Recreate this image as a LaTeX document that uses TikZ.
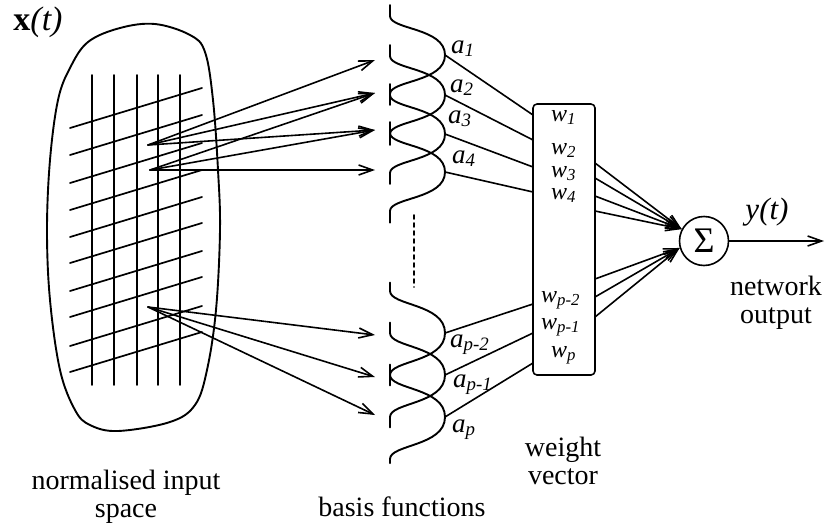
\documentclass[tikz,border=0pt]{standalone}
\usepackage{fontspec}
\setmainfont{Liberation Serif}
\usetikzlibrary{arrows.meta}
\begin{document}
\begin{tikzpicture}[x=1pt,y=-1pt,line cap=round,line join=round,
  outline/.style={line width=1.9pt},
  gridl/.style={line width=1.7pt},
  bf/.style={line width=1.9pt},
  conn/.style={line width=1.6pt},
  arr/.style={line width=1.6pt,-{Straight Barb[length=14pt,width=10pt,line width=1.6pt]}},
  big/.style={font=\fontsize{28}{28}\selectfont,inner sep=0pt,align=center},
  alab/.style={font=\fontsize{27}{27}\selectfont,inner sep=0pt,anchor=base west},
  wlab/.style={font=\fontsize{24}{24}\selectfont,inner sep=0pt,anchor=base west}]
\useasboundingbox (0,0) rectangle (825,525);
\fill[white] (0,0) rectangle (825,525);

% input space blob
\draw[outline] plot[smooth cycle,tension=0.6] coordinates {(155,24) (190,35) (205,52) (213,100) (218,170) (220,230) (216,310) (207,370) (195,405) (170,422) (118,431) (90,425) (75,410) (60,370) (50,300) (47,230) (50,160) (58,100) (70,68) (88,42) (120,28)};
\foreach \x in {92,114,137,158,180} \draw[gridl] (\x,75) -- (\x,385);
\foreach \y in {128,155,183,210,237,263,291,317,346,372} \draw[gridl] (70,\y) -- (202,\y-40);
\node[font=\fontsize{34}{34}\selectfont,inner sep=0pt] (xt) at (38,22) {\textbf{x}\textit{(t)}};

% basis functions: #1 centre, #2 spacing, #3 upper tail, #4 lower tail (in spacings)
\newcommand\bump[4]{\draw[bf] (390,{#1-#3*#2}) -- (390,{#1-#2})
   .. controls (390,{#1-0.65*#2}) and (445,{#1-0.7*#2}) .. (445,#1)
   .. controls (445,{#1+0.7*#2}) and (390,{#1+0.65*#2}) .. (390,{#1+#2})
   -- (390,{#1+#4*#2});}
\bump{55}{39}{1.28}{1.28}
\bump{95}{39}{1.28}{1.28}
\bump{134}{39}{1.28}{1.28}
\bump{172}{39}{1.28}{1.3}
\bump{333}{42}{1.2}{1.25}
\bump{375}{42}{1.25}{1.25}
\bump{417}{42}{1.25}{1.1}
\coordinate (dtop) at (414,215);
\coordinate (dbot) at (414,287);
\draw[line width=1.6pt,dash pattern=on 4pt off 4pt] (dtop) -- (dbot);

% peaks
\coordinate (p1) at (445,55);
\coordinate (p2) at (445,95);
\coordinate (p3) at (445,134);
\coordinate (p4) at (445,172);
\coordinate (p5) at (445,333);
\coordinate (p6) at (445,375);
\coordinate (p7) at (445,417);

\node[alab] (a1) at (451,53) {\textit{a}\textsubscript{\textit{1}}};
\node[alab] (a2) at (450,92) {\textit{a}\textsubscript{\textit{2}}};
\node[alab] (a3) at (448,123) {\textit{a}\textsubscript{\textit{3}}};
\node[alab] (a4) at (452,163) {\textit{a}\textsubscript{\textit{4}}};
\node[alab] (a5) at (450,347) {\textit{a}\textsubscript{\textit{p-2}}};
\node[alab] (a6) at (453,387) {\textit{a}\textsubscript{\textit{p-1}}};
\node[alab] (a7) at (452,432) {\textit{a}\textsubscript{\textit{p}}};

% arrows from input space
\coordinate (o1) at (148,145);
\coordinate (o2) at (150,170);
\coordinate (o3) at (148,307);
\coordinate (t1) at (375,60);
\coordinate (t2) at (375,93);
\coordinate (t3) at (375,130);
\coordinate (t4) at (375,170);
\coordinate (t5) at (375,335);
\coordinate (t6) at (375,377);
\coordinate (t7) at (375,415);
\draw[arr] (o1) -- (t1);
\draw[arr] (o1) -- (t2);
\draw[arr] (o1) -- (t3);
\draw[arr] (o2) -- (t2);
\draw[arr] (o2) -- (t3);
\draw[arr] (o2) -- (t4);
\draw[arr] (o3) -- (t5);
\draw[arr] (o3) -- (t6);
\draw[arr] (o3) -- (t7);

% weight vector
\node[draw,line width=1.6pt,rounded corners=4pt,minimum width=62pt,minimum height=271pt,inner sep=0pt] (wbox) at (564,239.5) {};
\coordinate (l1) at (533,115);
\coordinate (l2) at (533,140);
\coordinate (l3) at (533,167);
\coordinate (l4) at (533,192);
\coordinate (l5) at (533,304);
\coordinate (l6) at (533,333);
\coordinate (l7) at (533,363);
\foreach \i in {1,...,7} \draw[conn] (p\i) -- (l\i);
\node[wlab] (w1) at (551,121) {\textit{w}\textsubscript{\textit{1}}};
\node[wlab] (w2) at (551,154) {\textit{w}\textsubscript{\textit{2}}};
\node[wlab] (w3) at (551,177) {\textit{w}\textsubscript{\textit{3}}};
\node[wlab] (w4) at (551,199) {\textit{w}\textsubscript{\textit{4}}};
\node[wlab] (w5) at (541,302) {\textit{w}\textsubscript{\textit{p-2}}};
\node[wlab] (w6) at (541,329) {\textit{w}\textsubscript{\textit{p-1}}};
\node[wlab] (w7) at (551,357) {\textit{w}\textsubscript{\textit{p}}};

% summation
\node[draw,circle,line width=1.6pt,minimum size=49pt,inner sep=0pt,font=\fontsize{36}{36}\selectfont] (sig) at (704,241) {Σ};
\coordinate (r1) at (595,163);
\coordinate (r2) at (595,178);
\coordinate (r3) at (595,196);
\coordinate (r4) at (595,211);
\coordinate (r5) at (595,279);
\coordinate (r6) at (595,297);
\coordinate (r7) at (595,317);
\foreach \i in {1,...,4} \draw[arr] (r\i) -- (sig.152);
\foreach \i in {5,6,7} \draw[arr] (r\i) -- (sig.196);
\coordinate (out) at (824,241);
\draw[arr] (sig) -- (out);

% texts
\node[font=\fontsize{31}{31}\selectfont,inner sep=0pt] (yt) at (767,212) {\textit{y(t)}};
\node[big] (netout) at (776,303) {network\\output};
\node[big] (wvec) at (563,461) {weight\\vector};
\node[big] (inspace) at (126,497) {normalised input\\space};
\node[big] (basis) at (402,507) {basis functions};
\end{tikzpicture}
\end{document}
